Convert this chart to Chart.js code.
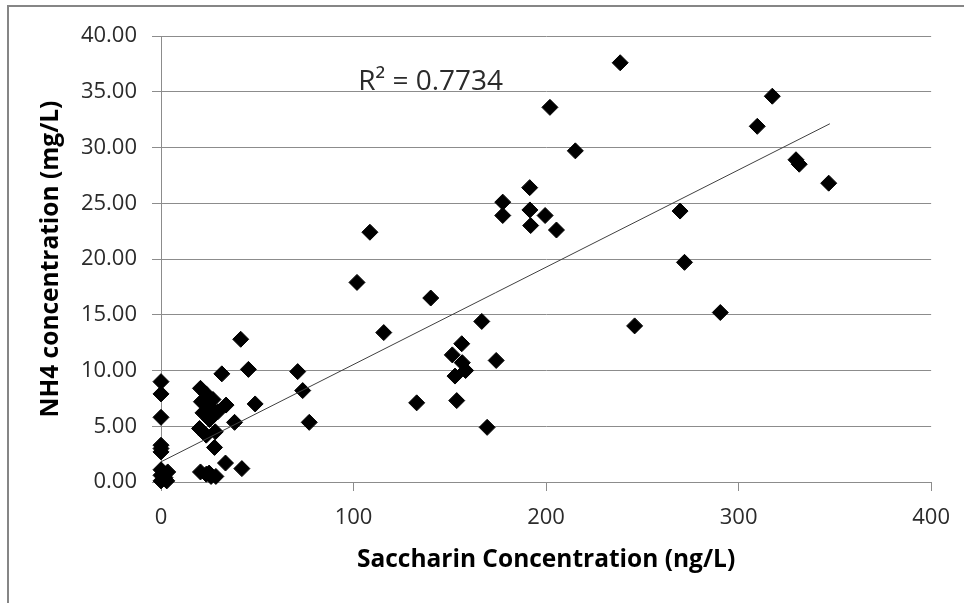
<!DOCTYPE html>
<html lang="en">
<head>
<meta charset="utf-8">
<title>NH4 vs Saccharin</title>
<script src="https://cdn.jsdelivr.net/npm/chart.js@4.4.1/dist/chart.umd.min.js"></script>
<style>
    html, body {
        margin: 0;
        padding: 0;
        background: #fff;
        overflow: hidden;
    }
    #frame {
        position: absolute;
        left: 7px;
        top: 5px;
        width: 1200px;
        height: 800px;
        border-left: 2px solid #868686;
        border-top: 2px solid #868686;
    }
    #nh4Chart {
        position: absolute;
        left: 0;
        top: 0;
    }
</style>
</head>
<body>
<div id="frame"></div>
<canvas id="nh4Chart" width="964" height="603"></canvas>
<script>
// Mesures : saccharine (ng/L) et NH4 (mg/L), une paire par échantillon
const saccharin = [
    238.5, 202, 215.2, 191.5, 177.5, 177.5, 191.6, 199.5, 192, 205.4,
    108.5, 101.8, 140.1, 115.7, 166.6, 156.2, 151.3, 156.5, 158.2, 152.7,
    174.1, 132.8, 153.6, 169.4, 246, 290.5, 317.5, 309.7, 329.8, 331.5,
    346.8, 269.6, 271.9, 71, 73.6, 77, 48.9, 41.4, 45.4, 31.6,
    38.2, 27.8, 33.5, 42,
    20.5, 23.5, 27, 21, 25, 33.8, 29.5, 21.8, 25.2, 20, 23.5, 28.2,
    20.5, 23.5, 26, 28.5, 25,
    0, 0, 0, 0, 0, 0, 0, 3.5, 0, 2, 0, 3
];
const nh4 = [
    37.6, 33.6, 29.7, 26.4, 25.1, 23.9, 24.4, 23.9, 23.0, 22.6,
    22.4, 17.9, 16.5, 13.4, 14.4, 12.4, 11.4, 10.7, 10.0, 9.5,
    10.9, 7.1, 7.3, 4.9, 14.0, 15.2, 34.6, 31.9, 28.9, 28.5,
    26.8, 24.3, 19.7, 9.9, 8.2, 5.35, 7.0, 12.8, 10.1, 9.7,
    5.35, 3.1, 1.7, 1.2,
    8.4, 7.9, 7.4, 7.2, 6.8, 6.9, 6.3, 6.2, 5.6, 4.8, 4.2, 4.5,
    0.9, 0.7, 0.5, 0.5, 0.8,
    9.0, 7.9, 5.8, 3.3, 3.0, 2.7, 1.1, 0.9, 0.6, 0.4, 0.1, 0.1
];

// Droite de tendance linéaire (extrémités)
const trendX = [0, 347.4];
const trendY = [1.81, 32.13];
const rSquared = 0.7734;

// Axes
const xAxisMax = 400;
const xStep = 100;
const yAxisMax = 40;
const yStep = 5;

const GRID_COLOR = '#8c8c8c';
const TEXT_COLOR = '#2b2b2b';

/**
 * Étiquette R² placée en coordonnées de données
 */
const r2Label = {
    id: 'r2Label',
    afterDatasetsDraw(chart, args, opts) {
        const {ctx, scales: {x, y}} = chart;
        ctx.save();
        ctx.font = '28px "Open Sans"';
        ctx.fillStyle = TEXT_COLOR;
        ctx.textAlign = 'left';
        ctx.textBaseline = 'alphabetic';
        ctx.fillText('R² = ' + rSquared.toFixed(4), x.getPixelForValue(opts.atX), y.getPixelForValue(opts.atY));
        ctx.restore();
    }
};

function buildPoints() {
    return saccharin.map((v, i) => ({ x: v, y: nh4[i] }));
}

function initChart() {
    const ctx = document.getElementById('nh4Chart');
    if (!ctx) return;

    new Chart(ctx.getContext('2d'), {
        type: 'scatter',
        data: {
            datasets: [{
                type: 'line',
                data: trendX.map((v, i) => ({ x: v, y: trendY[i] })),
                borderColor: '#404040',
                borderWidth: 1,
                pointRadius: 0,
                fill: false
            }, {
                data: buildPoints(),
                pointStyle: 'rectRot',
                pointRadius: 8,
                backgroundColor: '#000',
                borderColor: '#000',
                borderWidth: 1,
                clip: false
            }]
        },
        options: {
            responsive: false,
            animation: false,
            layout: {
                padding: { left: 0, top: 36, right: 31, bottom: 0 }
            },
            plugins: {
                legend: { display: false },
                tooltip: { enabled: false },
                r2Label: { atX: 102.4, atY: 35.15 }
            },
            scales: {
                x: {
                    type: 'linear',
                    min: 0,
                    max: xAxisMax,
                    afterFit(scale) { scale.height = 121; },
                    ticks: {
                        stepSize: xStep,
                        padding: 14,
                        color: TEXT_COLOR,
                        font: { family: 'Open Sans', size: 22 }
                    },
                    grid: {
                        drawOnChartArea: false,
                        color: GRID_COLOR,
                        tickLength: 9
                    },
                    border: { color: GRID_COLOR },
                    title: {
                        display: true,
                        text: 'Saccharin Concentration (ng/L)',
                        color: '#000',
                        font: { family: 'Open Sans', size: 24.5, weight: 'bold' },
                        padding: { top: 0, bottom: 28 }
                    }
                },
                y: {
                    min: 0,
                    max: yAxisMax,
                    afterFit(scale) { scale.width = 161; },
                    ticks: {
                        stepSize: yStep,
                        padding: 15,
                        color: TEXT_COLOR,
                        font: { family: 'Open Sans', size: 22 },
                        callback: v => v.toFixed(2)
                    },
                    grid: {
                        color: GRID_COLOR,
                        tickLength: 9
                    },
                    border: { color: GRID_COLOR },
                    title: {
                        display: true,
                        text: 'NH4 concentration (mg/L)',
                        color: '#000',
                        font: { family: 'Open Sans', size: 24.5, weight: 'bold' },
                        padding: { top: 36, bottom: 0 }
                    }
                }
            }
        },
        plugins: [r2Label]
    });
}

initChart();
</script>
</body>
</html>
